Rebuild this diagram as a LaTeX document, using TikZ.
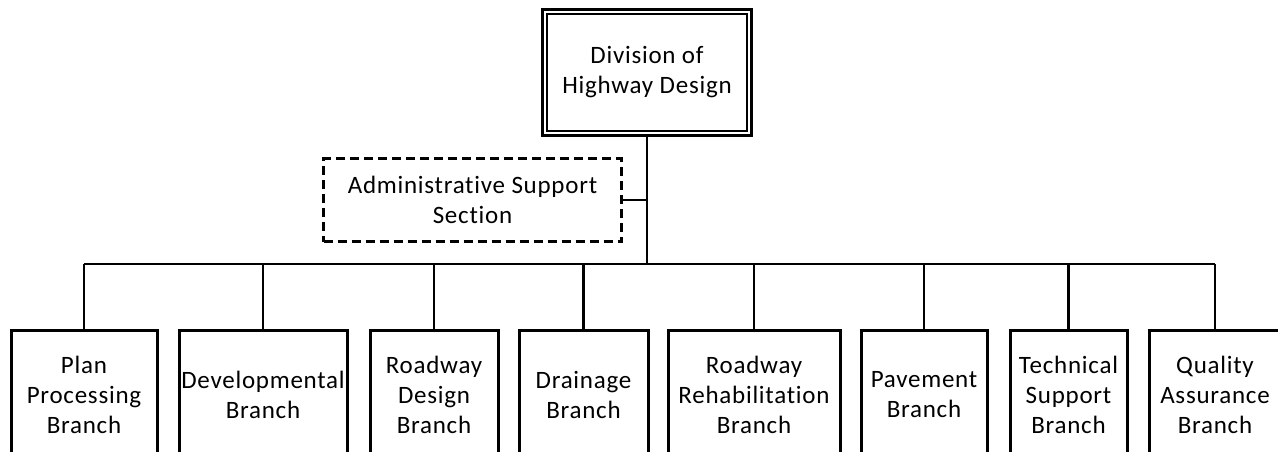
\documentclass[tikz,border=0pt]{standalone}
\usepackage{fontspec}
\setmainfont{Carlito}[LetterSpace=3, Ligatures={NoCommon}]
\begin{document}
\begin{tikzpicture}[x=1pt,y=-1pt,
  every node/.style={font=\fontsize{25}{30}\selectfont, align=center, inner sep=0pt},
  branch/.style={draw, line width=3pt, minimum height=128pt, anchor=north},
  topbox/.style={draw, line width=3pt, minimum width=209pt, minimum height=126pt},
  adminbox/.style={draw, line width=2.2pt, dash pattern=on 9pt off 5pt, minimum width=298pt, minimum height=83pt},
  link/.style={line width=2.4pt}]
\useasboundingbox (0,0) rectangle (1278,452);
\clip (0,0) rectangle (1278,452);
\fill[white] (0,0) rectangle (1278,452);

\node[topbox] (top) at (647,72.5) {Division of\\Highway Design};
\draw[line width=1.5pt] ([xshift=6pt,yshift=-6pt]top.north west) rectangle ([xshift=-6pt,yshift=6pt]top.south east);

\node[adminbox] (admin) at (472.5,200) {Administrative Support\\Section};

\node[branch, minimum width=146pt] (b1) at (84,329) {Plan\\Processing\\Branch};
\node[branch, minimum width=168pt] (b2) at (263,329) {Developmental\\Branch};
\node[branch, minimum width=128pt] (b3) at (434,329) {Roadway\\Design\\Branch};
\node[branch, minimum width=129pt] (b4) at (583.5,329) {Drainage\\Branch};
\node[branch, minimum width=172pt] (b5) at (754,329) {Roadway\\Rehabilitation\\Branch};
\node[branch, minimum width=126pt] (b6) at (924,329) {Pavement\\Branch};
\node[branch, minimum width=117pt] (b7) at (1068.5,329) {Technical\\Support\\Branch};
\node[branch, minimum width=132pt] (b8) at (1215,329) {Quality\\Assurance\\Branch};

\coordinate (bus) at (647,264);
\draw[link] (top.south) -- (bus);
\draw[link] (admin.east) -- (admin.east -| top.south);
\draw[link] (b1.north |- bus) -- (b8.north |- bus);
\foreach \b in {b1,b2,b3,b4,b5,b6,b7,b8}
  \draw[link] (\b.north) -- (\b.north |- bus);
\end{tikzpicture}
\end{document}
